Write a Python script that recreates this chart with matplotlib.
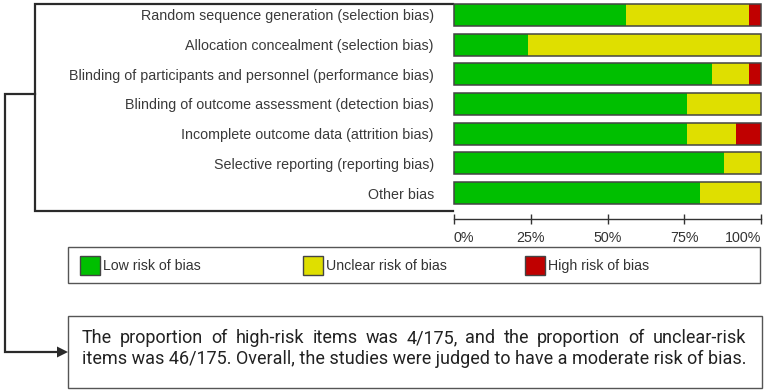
import matplotlib
matplotlib.use("Agg")
import matplotlib.pyplot as plt
from matplotlib.patches import Rectangle, Polygon
import numpy as np

# ---- data (percent of 25 studies per domain) ----
categories = [
    "Random sequence generation (selection bias)",
    "Allocation concealment (selection bias)",
    "Blinding of participants and personnel (performance bias)",
    "Blinding of outcome assessment (detection bias)",
    "Incomplete outcome data (attrition bias)",
    "Selective reporting (reporting bias)",
    "Other bias",
]
low_risk = [56, 24, 84, 76, 76, 88, 80]
unclear_risk = [40, 76, 12, 24, 16, 12, 20]
high_risk = [4, 0, 4, 0, 8, 0, 0]

tick_vals = [0, 25, 50, 75, 100]
tick_labels = ["0%", "25%", "50%", "75%", "100%"]

legend_labels = ["Low risk of bias", "Unclear risk of bias", "High risk of bias"]
colors = ["#00bf00", "#dfdf00", "#c00000"]

summary_lines = [
    "The proportion of high-risk items was 4/175, and the proportion of unclear-risk",
    "items was 46/175. Overall, the studies were judged to have a moderate risk of bias.",
]

W, H = 767, 392
fig = plt.figure(figsize=(W / 100, H / 100), dpi=100)
plt.rcParams["font.family"] = ["Liberation Sans", "DejaVu Sans"]

# overlay in pixel coordinates for boxes / connector
ov = fig.add_axes([0, 0, 1, 1], zorder=0)
ov.set_xlim(0, W)
ov.set_ylim(H, 0)
ov.axis("off")

# ---- bar chart ----
ax = fig.add_axes([454 / W, 1 - 208 / H, 307 / W, 208 / H], zorder=2)
ax.patch.set_alpha(0)
y = np.arange(len(categories))
low = np.array(low_risk)
unc = np.array(unclear_risk)
hi = np.array(high_risk)
bh = 0.74
ax.barh(y, low, height=bh, color=colors[0], lw=0, clip_on=False)
ax.barh(y, unc, left=low, height=bh, color=colors[1], lw=0, clip_on=False)
ax.barh(y, hi, left=low + unc, height=bh, color=colors[2], lw=0, clip_on=False)
ax.barh(y, low + unc + hi, height=bh, facecolor="none", edgecolor="#444444",
        lw=1.1, clip_on=False)
ax.set_xlim(0, 100)
ax.set_ylim(len(categories) - 0.5, -0.5)
for s in ["top", "right", "left"]:
    ax.spines[s].set_visible(False)
ax.spines["bottom"].set_position(("outward", 8))
ax.spines["bottom"].set_color("#333333")
ax.spines["bottom"].set_linewidth(1.0)
ax.set_xticks(tick_vals, labels=tick_labels)
ax.tick_params(axis="x", direction="inout", length=7, width=1.0, color="#333333",
               labelsize=10.3, labelcolor="#333333", pad=5)
xt = ax.get_xticklabels()
xt[0].set_ha("left")
xt[-1].set_ha("right")
ax.set_yticks(y, labels=categories)
ax.tick_params(axis="y", length=0, pad=14.5, labelsize=10.3, labelcolor="#3a3a3a")

# ---- label box (open on the right) and connector arrow ----
ov.plot([453, 35, 35, 453], [4, 4, 211, 211], color="#2a2a2a", lw=1.6,
        solid_joinstyle="miter")
ov.plot([35, 4.5, 4.5, 58], [94, 94, 352, 352], color="#2a2a2a", lw=1.6,
        solid_joinstyle="miter")
ov.add_patch(Polygon([[57, 346.5], [68, 352], [57, 357.5]], closed=True,
                     color="#2a2a2a", lw=0))

# ---- legend box ----
ov.add_patch(Rectangle((68, 247), 692, 36, facecolor="white",
                       edgecolor="#555555", lw=1.0))
for x0, lab, c in zip([80, 303, 525], legend_labels, colors):
    ov.add_patch(Rectangle((x0, 255.5), 19.5, 19.5, facecolor=c,
                           edgecolor="#444444", lw=1.0))
    ov.text(x0 + 23, 266, lab, fontsize=10.2, color="#333333",
            va="center", ha="left")

# ---- summary text box ----
ov.add_patch(Rectangle((68, 316), 694, 72, facecolor="white",
                       edgecolor="#555555", lw=1.0))

fs = 13
txt_kw = dict(fontsize=fs, color="#222222", family=["Roboto", "DejaVu Sans"],
              va="center", ha="left")
x_left, x_right = 82, 746
renderer = fig.canvas.get_renderer()

# first line justified, last line left aligned
words = summary_lines[0].split(" ")
arts = [ov.text(0, 338, w_, **txt_kw) for w_ in words]
widths = [a.get_window_extent(renderer).width for a in arts]
gap = (x_right - x_left - sum(widths)) / (len(words) - 1)
xpos = x_left
for a, wd in zip(arts, widths):
    a.set_x(xpos)
    xpos += wd + gap
ov.text(x_left, 359, summary_lines[1], **txt_kw)

fig.savefig("out.png", dpi=100)
